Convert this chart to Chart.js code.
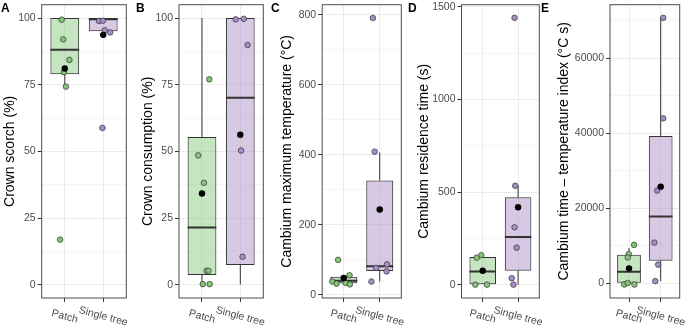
<!DOCTYPE html>
<html>
<head>
<meta charset="utf-8">
<script src="https://cdn.jsdelivr.net/npm/chart.js@4.4.0/dist/chart.umd.min.js"></script>
<style>
  html, body { margin: 0; padding: 0; background: #fff; }
  #fig { position: relative; width: 685px; height: 327px; overflow: hidden; }
  #fig canvas { position: absolute; top: 0; }
</style>
</head>
<body>
<div id="fig"></div>
<script>
const groups = ['Patch', 'Single tree'];
const panelLetters = ['A', 'B', 'C', 'D', 'E'];
const yTitles = [
  'Crown scorch (%)',
  'Crown consumption (%)',
  'Cambium maximum temperature (°C)',
  'Cambium residence time (s)',
  'Cambium time \u2013 temperature index (°C s)'
];
const yTicks = [
  [0, 25, 50, 75, 100],
  [0, 25, 50, 75, 100],
  [0, 200, 400, 600, 800],
  [0, 500, 1000, 1500],
  [0, 20000, 40000, 60000]
];
const yLimits = [[-5, 105], [-5, 105], [-9, 829], [-72, 1512], [-3900, 74300]];

// box stats: [lower whisker, q1, median, q3, upper whisker]
const boxPatch = [
  [74.3, 78.9, 88.1, 100, 100],
  [0, 3.6, 21.4, 55.4, 100],
  [29, 33, 40, 52, 57],
  [0, 0, 71, 149, 160],
  [-300, 0, 3100, 7600, 9400]
];
const boxSingle = [
  [94.6, 95, 99.5, 100, 100],
  [0, 7.4, 70.1, 100, 100],
  [38, 68, 82, 327, 407],
  [0, 75, 258, 472, 534],
  [600, 6050, 17800, 39300, 70800]
];
const meanPatch = [81.1, 34.2, 48, 75, 4000];
const meanSingle = [93.7, 56.2, 244, 418, 25790];

// observations (jitter = horizontal offset in category units)
const pointsPatch = [
  [99.4, 92, 84.3, 79.7, 74.3, 16.9],
  [77, 48.5, 38.2, 5.2, 5.2, 0.2, 0.2],
  [100, 56, 38, 34, 32, 30],
  [159, 146, 0, 0],
  [10260, 7800, 6900, -300, 100, -300]
];
const jitterPatch = [
  [-0.08, -0.04, 0.12, -0.02, 0.03, -0.12],
  [0.19, -0.1, 0.05, 0.12, 0.17, 0.02, 0.2],
  [-0.16, 0.16, -0.32, 0.05, -0.2, 0.17],
  [-0.04, -0.17, -0.21, 0.12],
  [0.16, -0.01, -0.04, -0.15, -0.04, 0.17]
];
const pointsSingle = [
  [98.9, 99, 95.4, 94.6, 58.8],
  [99.5, 99.7, 89.9, 50.3, 10.5],
  [791, 409, 77, 87, 67, 38],
  [1441, 534, 310, 200, 35, 0],
  [70800, 44000, 24740, 10870, 5000, 600]
];
const jitterSingle = [
  [-0.11, -0.01, 0.04, 0.18, -0.02],
  [-0.12, 0.09, 0.19, 0.02, 0.06],
  [-0.19, -0.14, -0.1, 0.2, 0.19, -0.23],
  [-0.1, -0.08, -0.1, -0.04, -0.18, -0.13],
  [0.08, 0.08, -0.11, -0.2, -0.08, -0.17]
];

// layout of the five panels in the 685 x 327 figure
const panelLayout = [
  {x0: 0,   w: 131, plotL: 41.7,  plotR: 126.7, titleX: 10.5, letterX: 1},
  {x0: 135, w: 133, plotL: 179,   plotR: 265,   titleX: 148,  letterX: 136},
  {x0: 270, w: 136, plotL: 322.2, plotR: 402.4, titleX: 287,  letterX: 271},
  {x0: 405, w: 139, plotL: 461.5, plotR: 541.5, titleX: 424,  letterX: 408},
  {x0: 540, w: 145, plotL: 610,   plotR: 679.7, titleX: 564,  letterX: 541}
];
const figH = 327, plotTop = 3.5, plotBottom = 298;
const boxWidth = 0.75;

const fillColors = ['rgba(140, 201, 130, 0.5)', 'rgba(176, 147, 202, 0.5)'];
const pointColors = ['#84c578', '#a88cc7'];
const inkDark = '#333333';
const tickText = '#4d4d4d';
const gridColor = '#ebebeb';
const fontFamily = '"Liberation Sans", Arial, Helvetica, sans-serif';

Chart.defaults.font.family = fontFamily;
Chart.defaults.animation = false;

function buildPanel(i) {
  const L = panelLayout[i];
  const canvas = document.createElement('canvas');
  canvas.width = L.w;
  canvas.height = figH;
  canvas.style.left = L.x0 + 'px';
  canvas.style.width = L.w + 'px';
  canvas.style.height = figH + 'px';
  document.getElementById('fig').appendChild(canvas);

  const majors = yTicks[i];
  const step = majors[1] - majors[0];
  const [yMin, yMax] = yLimits[i];
  const allTicks = [];
  for (let v = majors[0] - step / 2; v <= yMax; v += step / 2) {
    if (v >= yMin) allTicks.push(v);
  }
  const isMajor = v => majors.includes(v);

  const bp = boxPatch[i], bs = boxSingle[i];
  const half = boxWidth / 2;

  const boxes = [
    {x: 1, y: [bp[1], bp[3]]},
    {x: 2, y: [bs[1], bs[3]]}
  ];
  const whiskers = [];
  [bp, bs].forEach((b, g) => {
    const x = g + 1;
    whiskers.push({x, y: b[3]}, {x, y: b[4]}, {x, y: null}, {x, y: b[0]}, {x, y: b[1]}, {x, y: null});
  });
  const medians = [
    {x: 1 - half, y: bp[2]}, {x: 1 + half, y: bp[2]}, {x: 1.5, y: null},
    {x: 2 - half, y: bs[2]}, {x: 2 + half, y: bs[2]}
  ];
  const obs = [], obsColors = [];
  pointsPatch[i].forEach((v, k) => { obs.push({x: 1 + jitterPatch[i][k], y: v}); obsColors.push(pointColors[0]); });
  pointsSingle[i].forEach((v, k) => { obs.push({x: 2 + jitterSingle[i][k], y: v}); obsColors.push(pointColors[1]); });
  const means = [{x: 1, y: meanPatch[i]}, {x: 2, y: meanSingle[i]}];

  const decor = {
    id: 'decor',
    afterDatasetsDraw(chart) {
      const {ctx, chartArea: a} = chart;
      ctx.save();
      ctx.strokeStyle = '#4d4d4d';
      ctx.lineWidth = 1;
      ctx.strokeRect(a.left, a.top, a.right - a.left, a.bottom - a.top);
      ctx.restore();
    },
    afterDraw(chart) {
      const {ctx, chartArea: a} = chart;
      const xs = chart.scales.x;
      ctx.save();
      ctx.fillStyle = tickText;
      ctx.font = '10.5px ' + fontFamily;
      ctx.textAlign = 'center';
      ctx.textBaseline = 'middle';
      groups.forEach((g, k) => {
        ctx.save();
        ctx.translate(xs.getPixelForValue(k + 1), a.bottom + 18.5);
        ctx.rotate(15 * Math.PI / 180);
        ctx.fillText(g, 0, 0);
        ctx.restore();
      });
      ctx.fillStyle = '#000';
      ctx.font = 'bold 12px ' + fontFamily;
      ctx.textAlign = 'left';
      ctx.textBaseline = 'alphabetic';
      ctx.fillText(panelLetters[i], L.letterX - L.x0, 12);
      ctx.restore();
    }
  };

  return new Chart(canvas, {
    type: 'bar',
    data: {
      datasets: [
        {
          type: 'scatter', data: means, order: -1,
          pointRadius: 3.2, pointBackgroundColor: '#000', pointBorderWidth: 0
        },
        {
          type: 'scatter', data: obs, order: 0,
          pointRadius: 2.8, pointBackgroundColor: obsColors,
          pointBorderColor: inkDark, pointBorderWidth: 0.7
        },
        {
          type: 'line', data: medians, order: 1,
          borderColor: inkDark, borderWidth: 2, pointRadius: 0, spanGaps: false, borderCapStyle: 'butt'
        },
        {
          type: 'bar', data: boxes, order: 2,
          backgroundColor: fillColors, borderColor: inkDark, borderWidth: 1,
          borderSkipped: false, categoryPercentage: boxWidth, barPercentage: 1
        },
        {
          type: 'line', data: whiskers, order: 3,
          borderColor: inkDark, borderWidth: 1, pointRadius: 0, spanGaps: false
        }
      ]
    },
    options: {
      responsive: false,
      devicePixelRatio: 1,
      events: [],
      layout: {padding: {left: 0, top: plotTop, right: L.w - (L.plotR - L.x0), bottom: 0}},
      plugins: {legend: {display: false}, tooltip: {enabled: false}},
      scales: {
        x: {
          type: 'linear', min: 0.4, max: 2.6, offset: false,
          afterBuildTicks: s => { s.ticks = groups.map((g, k) => ({value: k + 1})); },
          afterFit: s => { s.height = figH - plotBottom; s.paddingLeft = 0; s.paddingRight = 0; },
          ticks: {display: false},
          border: {display: false},
          grid: {offset: false, color: gridColor, lineWidth: 1, tickColor: inkDark, tickLength: 4}
        },
        y: {
          type: 'linear', min: yMin, max: yMax,
          afterBuildTicks: s => { s.ticks = allTicks.map(v => ({value: v})); },
          afterFit: s => { s.width = L.plotL - L.x0; s.paddingTop = 0; s.paddingBottom = 0; },
          border: {display: false},
          grid: {
            color: gridColor,
            lineWidth: c => isMajor(c.tick.value) ? 1 : 0.5,
            tickColor: c => isMajor(c.tick.value) ? inkDark : 'rgba(0,0,0,0)',
            tickLength: 4
          },
          ticks: {
            autoSkip: false, padding: 2, color: tickText,
            font: {size: 10.5},
            callback: v => isMajor(v) ? String(v) : ''
          },
          title: {
            display: true, text: yTitles[i], color: '#000',
            font: {size: 14, lineHeight: 1},
            padding: {top: L.titleX - L.x0 - 7, bottom: 0}
          }
        }
      }
    },
    plugins: [decor]
  });
}

panelLetters.forEach((p, i) => buildPanel(i));
</script>
</body>
</html>
